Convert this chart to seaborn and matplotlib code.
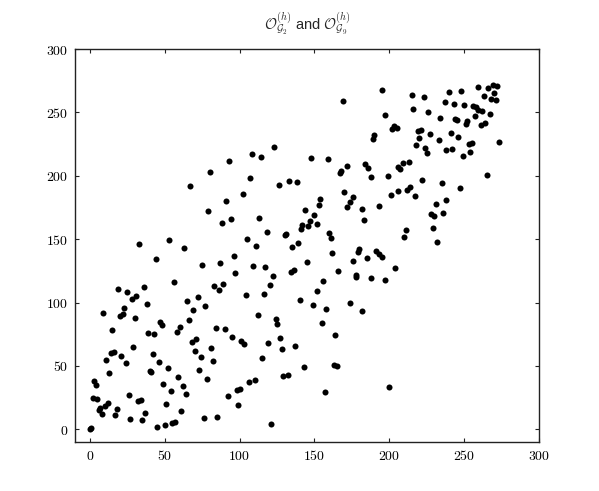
# Scatter of O_G2 vs O_G9 (classic matplotlib look)

# %% Imports
import pandas as pd
import matplotlib
matplotlib.use("Agg")
import matplotlib.pyplot as plt
import seaborn as sns
from matplotlib.ticker import FuncFormatter

# %% Data
o_g2 = [47, 48, 66, 60, 58, 15, 39, 43, 84, 90, 95, 68, 71, 81, 70, 29, 14, 16, 21, 11,
        24, 42, 46, 74, 82, 52, 40, 41, 73, 13, 3, 4, 59, 78, 49, 62, 54, 64, 26, 2,
        5, 92, 32, 34, 12, 10, 7, 6, 8, 18, 17, 51, 37, 61, 27, 35, 55, 57, 76, 85,
        45, 50, 0, 1,
        67, 91, 79, 88, 94, 33, 53, 63, 44, 75, 87, 56, 19, 25, 36, 28, 31, 23, 9, 20,
        22, 30, 38, 83, 86, 89, 65, 72, 69, 77,
        124, 125, 155, 164, 101, 103, 119, 127, 128, 137, 115, 143, 163, 165, 129, 132,
        106, 110, 98, 100, 99, 157, 200, 121,
        126, 133, 138, 102, 170, 176, 174, 172, 193, 182, 183, 154, 153, 144, 150, 147,
        152, 142, 146, 141, 113, 118, 131, 130, 160, 161, 105, 111, 135, 139, 96, 97,
        162, 179, 180, 176, 185, 191, 193, 195, 145, 109, 117, 122, 134, 136, 166, 156,
        178, 178, 188, 197, 120, 104, 116, 152, 140, 149, 158, 174, 182, 112,
        201, 206, 212, 214, 217, 247, 238, 231, 236, 228, 230, 229, 232, 211, 210, 204, 235,
        195, 169, 197, 189, 190, 123, 108, 114, 93, 80, 148, 159, 167, 168, 172, 184,
        186, 188, 199, 107,
        215, 223, 240, 248, 237, 243, 250, 216, 226, 234, 244, 245, 251, 252, 202, 203,
        205, 219, 221, 227, 241, 246, 220, 233, 218, 224, 225, 238, 242, 249, 213, 209,
        206, 207, 222,
        259, 266, 269, 272, 263, 270, 268, 271, 256, 258, 259, 262, 267, 257, 261, 264,
        253, 255, 254, 273, 265]

o_g9 = [85, 82, 86, 81, 77, 78, 76, 75, 80, 79, 73, 69, 71, 64, 62, 65, 60, 61, 58, 55,
        52, 59, 53, 57, 54, 48, 46, 45, 47, 44, 38, 35, 41, 40, 36, 34, 30, 28, 27, 25,
        24, 26, 22, 23, 21, 18, 17, 15, 12, 16, 11, 20, 13, 14, 8, 7, 5, 6, 9, 10,
        2, 3, 0, 1,
        192, 180, 172, 163, 166, 146, 149, 143, 134, 130, 131, 116, 111, 108, 112, 103,
        105, 96, 92, 89, 91, 88, 99, 113, 110, 115, 101, 104, 94, 97,
        87, 83, 84, 74, 70, 67, 68, 72, 63, 66, 56, 49, 51, 50, 42, 43,
        37, 39, 31, 32, 19, 29, 33, 4,
        193, 196, 195, 186, 187, 183, 179, 175, 176, 174, 165, 182, 177, 173, 169, 164,
        162, 161, 160, 158, 167, 156, 154, 153, 155, 151, 150, 145, 144, 147, 137, 123,
        139, 140, 142, 133, 135, 141, 138, 136, 132, 129, 128, 121, 124, 126, 125, 117,
        120, 122, 119, 118, 114, 106, 107, 109, 102, 98, 95, 100, 93, 90,
        185, 188, 189, 191, 184, 190, 181, 178, 171, 170, 168, 159, 148, 157, 152, 127, 194,
        268, 259, 248, 229, 232, 223, 217, 215, 212, 203, 214, 213, 202, 204, 208, 209,
        206, 199, 200, 198,
        264, 262, 266, 267, 258, 257, 256, 253, 250, 246, 245, 244, 241, 243, 237, 239,
        238, 235, 236, 233, 234, 231, 230, 228, 224, 222, 218, 220, 221, 216, 211, 210,
        207, 205, 197,
        270, 269, 272, 271, 263, 265, 261, 260, 255, 254, 252, 251, 249, 247, 240, 242,
        225, 226, 219, 227, 201]

tick_values = [0, 50, 100, 150, 200, 250, 300]
title_text = r"$\mathcal{O}_{\mathcal{G}_2}^{(h)}$ and $\mathcal{O}_{\mathcal{G}_9}^{(h)}$"

df = pd.DataFrame({"O_G2": o_g2, "O_G9": o_g9})

# %% Style: old-school matplotlib with inward ticks on every side
sns.set_style("ticks")
plt.rcParams["font.family"] = ["Liberation Sans", "DejaVu Sans"]
plt.rcParams["mathtext.fontset"] = "cm"
plt.rcParams["xtick.direction"] = "in"
plt.rcParams["ytick.direction"] = "in"
plt.rcParams["xtick.top"] = True
plt.rcParams["ytick.right"] = True

# %% Plot
fig = plt.figure(figsize=(5.99, 4.91), dpi=100)
ax = fig.add_axes([0.125, 0.1, 0.775, 0.8])
sns.scatterplot(data=df, x="O_G2", y="O_G9", color="black", s=19,
                linewidth=0, ax=ax, legend=False)

ax.set_xlim(-10, 300)
ax.set_ylim(-10, 300)
ax.set_xticks(tick_values)
ax.set_yticks(tick_values)
fmt = FuncFormatter(lambda v, p: f"${v:.0f}$")
ax.xaxis.set_major_formatter(fmt)
ax.yaxis.set_major_formatter(fmt)
ax.tick_params(which="major", length=3.2, width=0.8, colors="#222222",
               labelsize=10, labelcolor="black")
ax.tick_params(axis="x", pad=5)
ax.tick_params(axis="y", pad=5)
for sp in ax.spines.values():
    sp.set_visible(True)
    sp.set_linewidth(1.0)
    sp.set_color("#222222")

ax.set_xlabel("")
ax.set_ylabel("")
ax.set_title(title_text, fontsize=10.5, pad=14)

fig.savefig("out.png", dpi=100)
